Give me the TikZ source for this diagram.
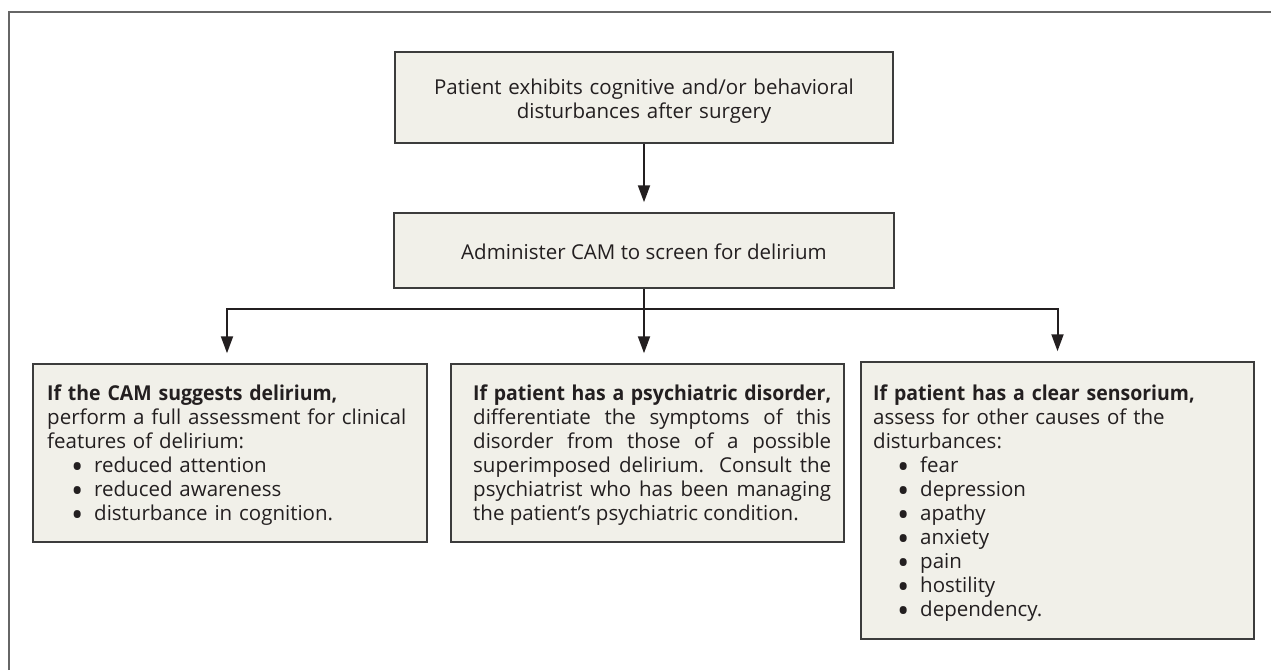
\documentclass[tikz,border=0pt]{standalone}
\usepackage{graphicx}
\usepackage{fontspec}
\setmainfont{Open Sans}[BoldFeatures={FakeStretch=0.95}]
\usetikzlibrary{arrows.meta}
\definecolor{boxfill}{HTML}{F1F0E9}
\definecolor{boxline}{HTML}{3C3C3C}
\definecolor{txt}{HTML}{231F20}
\definecolor{framec}{HTML}{666666}
\tikzset{
  box/.style={draw=boxline, fill=boxfill, line width=1.5pt, inner sep=0pt, rectangle},
  txtnode/.style={inner sep=0pt, text=txt, font=\fontsize{20.5}{24}\selectfont},
  conn/.style={draw=txt, line width=2pt},
  arr/.style={conn, -{Triangle[length=17pt,width=12pt]}, shorten >=10pt},
}
\newcommand{\itm}[1]{\hspace*{24pt}\makebox[23pt][l]{\smash{\raisebox{-0.3em}{\scalebox{1.6}{\textbullet}}}}#1}
\begin{document}
\begin{tikzpicture}[x=1pt,y=-1pt]
\useasboundingbox (0,0) rectangle (1271,670);
% outer frame (cropped)
\draw[framec, line width=2pt] (9,670) -- (9,12) -- (1271,12);
% boxes
\node[box, minimum width=498pt, minimum height=91pt] (b1) at (644,97.5) {};
\node[box, minimum width=500pt, minimum height=75pt] (b2) at (644,250.5) {};
\node[box, minimum width=394pt, minimum height=178pt] (lb) at (230,453) {};
\node[box, minimum width=393pt, minimum height=178pt] (mb) at (647.5,453) {};
\node[box, minimum width=393pt, minimum height=277pt] (rb) at (1057.5,500.5) {};
% texts
\node[txtnode, text width=480pt, align=center, anchor=base] (t1) at (644,94) {Patient exhibits cognitive and/or behavioral\\disturbances after surgery};
\node[txtnode, anchor=base] (t2) at (644,259) {Administer CAM to screen for delirium};
\node[txtnode, text width=372pt, align=left, anchor=base west] (tl) at (47,400) {%
\textbf{If the CAM suggests delirium,}\\
perform a full assessment for clinical\\
features of delirium:\\
\itm{reduced attention}\\
\itm{reduced awareness}\\
\itm{disturbance in cognition.}};
\node[txtnode, text width=358pt, align=justify, anchor=base west] (tm) at (473,400) {%
\textbf{If patient has a psychiatric disorder,}\linebreak
differentiate the symptoms of this\linebreak
disorder from those of a possible\linebreak
superimposed delirium. Consult the\linebreak
psychiatrist who has been managing\linebreak
the patient’s psychiatric condition.};
\node[txtnode, text width=372pt, align=left, anchor=base west] (tr) at (873,400) {%
\textbf{If patient has a clear sensorium,}\\
assess for other causes of the\\
disturbances:\\
\itm{fear}\\
\itm{depression}\\
\itm{apathy}\\
\itm{anxiety}\\
\itm{pain}\\
\itm{hostility}\\
\itm{dependency.}};
% connectors
\coordinate (split) at (644,309);
\draw[arr] (b1.south) -- (b2.north);
\draw[conn] (b2.south) -- (split);
\draw[arr] (split) -- (mb.north -| split);
\draw[arr] (split) -| ([xshift=-3pt]lb.north);
\draw[arr] (split) -| (rb.north);
\end{tikzpicture}
\end{document}
